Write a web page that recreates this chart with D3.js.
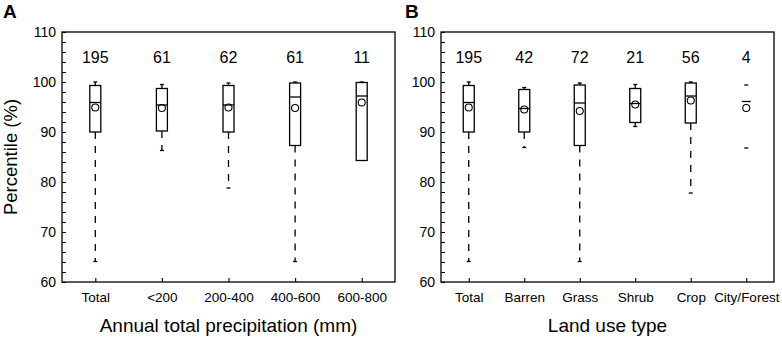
<!DOCTYPE html>
<html>
<head>
<meta charset="utf-8">
<script src="https://cdn.jsdelivr.net/npm/d3@7"></script>
<style>
  body { margin: 0; background: #fff; }
  svg { display: block; font-family: "Liberation Sans", Arial, sans-serif; }
</style>
</head>
<body>
<div id="chart"></div>
<script>
// Panel A: annual total precipitation
const catsA = ["Total", "<200", "200-400", "400-600", "600-800"];
const countsA = [195, 61, 62, 61, 11];
const minA = [64.1, 86.3, 78.8, 64.1, 84.3];
const q1A = [90.0, 90.2, 90.0, 87.3, 84.3];
const medA = [95.9, 95.4, 95.4, 97.0, 97.2];
const q3A = [99.3, 98.7, 99.3, 99.8, 99.9];
const maxA = [100.0, 99.5, 99.8, 100.0, 100.0];
const meanA = [94.9, 94.8, 94.9, 94.8, 95.9];

// Panel B: land use type
const catsB = ["Total", "Barren", "Grass", "Shrub", "Crop", "City/Forest"];
const countsB = [195, 42, 72, 21, 56, 4];
const minB = [64.1, 86.9, 64.1, 91.1, 77.8, 86.8];
const q1B = [90.0, 90.0, 87.3, 91.9, 91.8, null];
const medB = [95.9, 94.7, 95.8, 95.7, 97.2, 96.1];
const q3B = [99.3, 98.5, 99.4, 98.7, 99.8, null];
const maxB = [100.0, 98.9, 99.8, 99.5, 100.0, 99.4];
const meanB = [94.9, 94.5, 94.2, 95.5, 96.3, 94.8];

const width = 782, height = 337;
const plotTop = 32, plotBottom = 282;

const svg = d3.select("#chart").append("svg")
  .attr("width", width)
  .attr("height", height);

const y = d3.scaleLinear().domain([60, 110]).range([plotBottom, plotTop]);

function drawPanel(opts) {
  const { left, right, cats, counts, mins, q1s, meds, q3s, maxs, means, letter, title } = opts;
  const x = d3.scalePoint().domain(cats).range([left, right]).padding(0.5);
  const g = svg.append("g");
  const bw = 11;

  // y axis, ticks inward, labels on tens
  g.append("g")
    .attr("transform", `translate(${left},0)`)
    .call(d3.axisLeft(y)
      .tickValues(d3.range(60, 111, 2))
      .tickSize(-4)
      .tickPadding(6)
      .tickFormat(d => d % 10 === 0 ? d : ""))
    .call(a => a.select(".domain").remove())
    .call(a => a.selectAll("line").attr("stroke-width", 1.1))
    .call(a => a.selectAll("text").attr("font-size", 14).attr("fill", "#000")
      .attr("font-family", "Liberation Sans, Arial, sans-serif"));

  // x axis, ticks inward
  g.append("g")
    .attr("transform", `translate(0,${plotBottom})`)
    .call(d3.axisBottom(x).tickSize(-4).tickPadding(10))
    .call(a => a.select(".domain").remove())
    .call(a => a.selectAll("line").attr("stroke-width", 1.1))
    .call(a => a.selectAll("text").attr("font-size", 13.5).attr("fill", "#000")
      .attr("font-family", "Liberation Sans, Arial, sans-serif"));

  // frame
  g.append("rect")
    .attr("x", left).attr("y", plotTop)
    .attr("width", right - left).attr("height", plotBottom - plotTop)
    .attr("fill", "none").attr("stroke", "#000").attr("stroke-width", 1.3);

  cats.forEach((c, i) => {
    const cx = x(c);
    const hasBox = q1s[i] != null;
    const lo = hasBox ? q1s[i] : null;
    const hi = hasBox ? q3s[i] : null;

    if (hasBox) {
      // whiskers
      [[mins[i], lo], [hi, maxs[i]]].forEach(([a, b]) => {
        if (Math.abs(a - b) < 0.05) return;
        g.append("line")
          .attr("x1", cx).attr("x2", cx)
          .attr("y1", y(b)).attr("y2", y(a))
          .attr("stroke", "#000").attr("stroke-width", 1.3)
          .attr("stroke-dasharray", "7,7");
      });
      // box
      g.append("rect")
        .attr("x", cx - bw / 2).attr("y", y(hi))
        .attr("width", bw).attr("height", y(lo) - y(hi))
        .attr("fill", "none").attr("stroke", "#000").attr("stroke-width", 1.3);
    }
    // caps
    [mins[i], maxs[i]].forEach(v => {
      if (hasBox && Math.abs(v - lo) < 0.05) return;
      g.append("line")
        .attr("x1", cx - 2).attr("x2", cx + 2)
        .attr("y1", y(v)).attr("y2", y(v))
        .attr("stroke", "#000").attr("stroke-width", 1.3);
    });
    // median
    const mw = hasBox ? bw / 2 : 4.5;
    g.append("line")
      .attr("x1", cx - mw).attr("x2", cx + mw)
      .attr("y1", y(meds[i])).attr("y2", y(meds[i]))
      .attr("stroke", "#000").attr("stroke-width", 1.3);
    // mean
    g.append("circle")
      .attr("cx", cx).attr("cy", y(means[i])).attr("r", 3.5)
      .attr("fill", "none").attr("stroke", "#000").attr("stroke-width", 1.1);
    // count
    g.append("text")
      .attr("x", cx).attr("y", y(105)).attr("dy", "0.36em")
      .attr("text-anchor", "middle").attr("font-size", 16)
      .text(counts[i]);
  });

  // x title
  g.append("text")
    .attr("x", (left + right) / 2).attr("y", 332)
    .attr("text-anchor", "middle").attr("font-size", 19)
    .text(title);

  // panel letter
  g.append("text")
    .attr("x", letter.x).attr("y", 18)
    .attr("font-size", 19).attr("font-weight", "bold")
    .text(letter.t);
}

drawPanel({
  left: 62, right: 395, cats: catsA, counts: countsA,
  mins: minA, q1s: q1A, meds: medA, q3s: q3A, maxs: maxA, means: meanA,
  letter: { t: "A", x: 3 }, title: "Annual total precipitation (mm)"
});

drawPanel({
  left: 441, right: 774, cats: catsB, counts: countsB,
  mins: minB, q1s: q1B, meds: medB, q3s: q3B, maxs: maxB, means: meanB,
  letter: { t: "B", x: 405 }, title: "Land use type"
});

// y title (panel A only)
svg.append("text")
  .attr("transform", `translate(17,${(plotTop + plotBottom) / 2}) rotate(-90)`)
  .attr("text-anchor", "middle").attr("font-size", 18.5)
  .text("Percentile (%)");
</script>
</body>
</html>
